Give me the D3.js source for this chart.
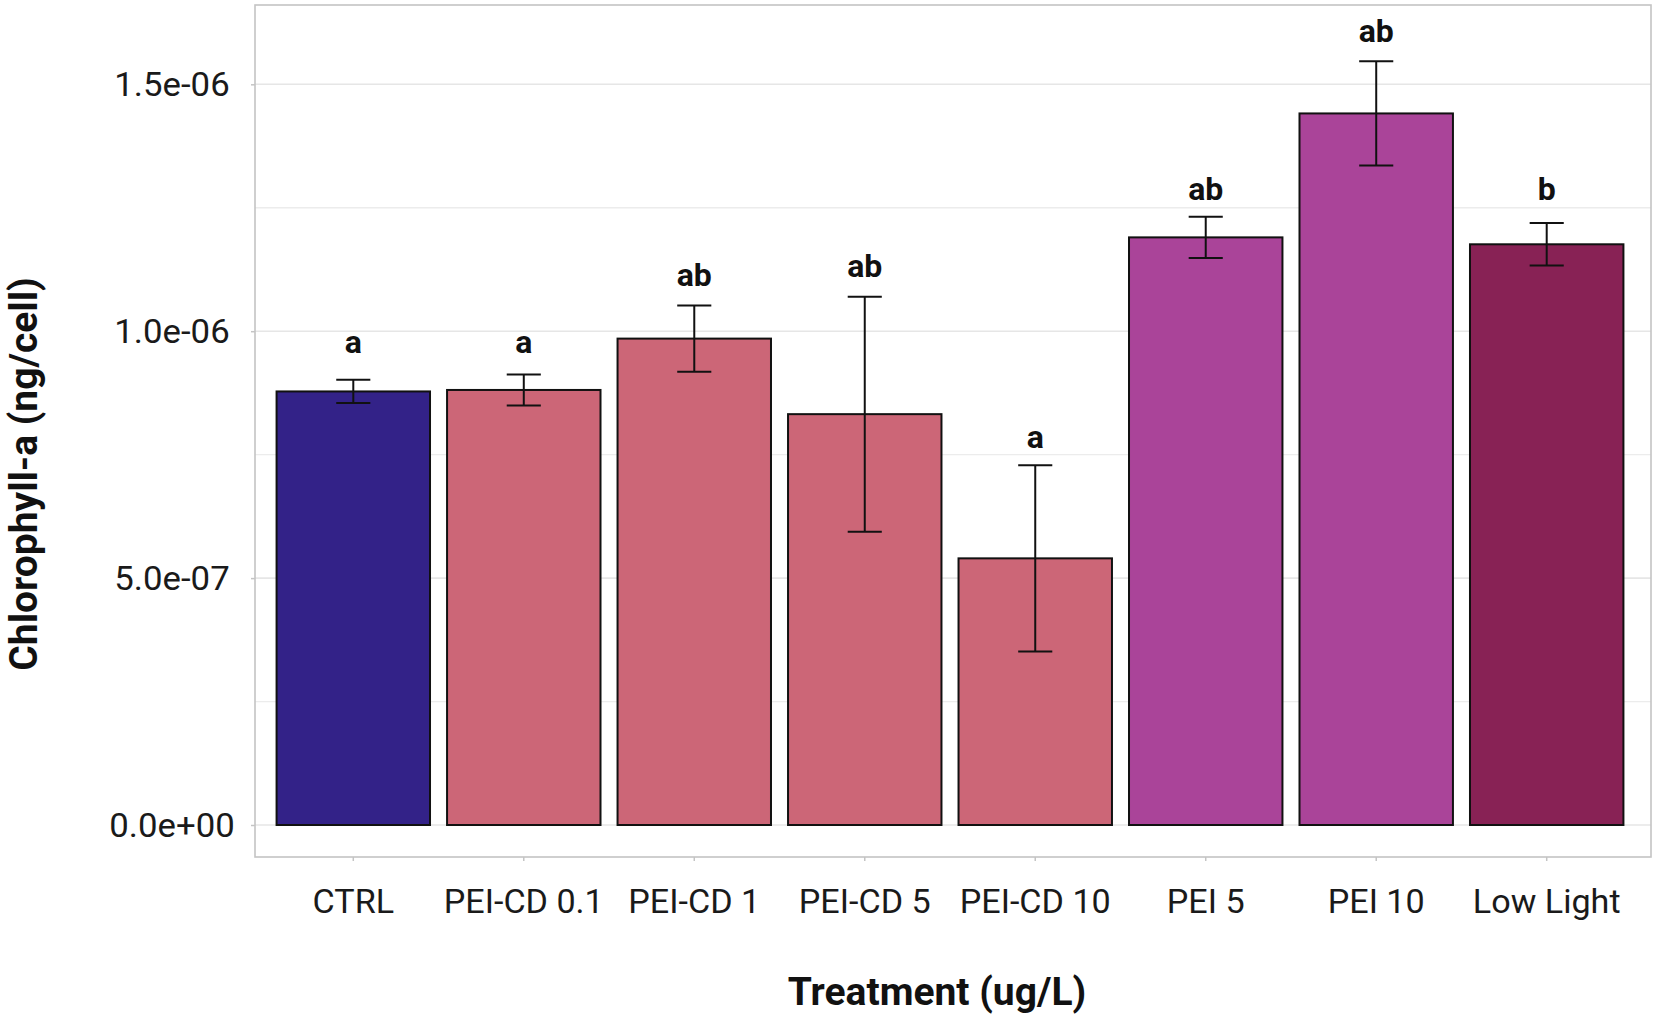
<!DOCTYPE html>
<html>
<head>
<meta charset="utf-8">
<script src="https://cdn.jsdelivr.net/npm/d3@7/dist/d3.min.js"></script>
<style>
  html, body { margin: 0; padding: 0; background: #ffffff; }
  svg { display: block; }
  text { font-family: Roboto, "Noto Sans", sans-serif; }
</style>
</head>
<body>
<svg id="chart" width="1654" height="1018"></svg>
<script>
// ---- data ----
const categories = ["CTRL", "PEI-CD 0.1", "PEI-CD 1", "PEI-CD 5", "PEI-CD 10", "PEI 5", "PEI 10", "Low Light"];
const means = [0.878e-6, 0.881e-6, 0.985e-6, 0.832e-6, 0.540e-6, 1.190e-6, 1.441e-6, 1.176e-6];
const errors = [0.0235e-6, 0.0315e-6, 0.067e-6, 0.238e-6, 0.1885e-6, 0.042e-6, 0.1055e-6, 0.043e-6];
const groupLetters = ["a", "a", "ab", "ab", "a", "ab", "ab", "b"];
const letterHeights = [0.9555e-6, 0.9555e-6, 1.0917e-6, 1.110e-6, 0.7632e-6, 1.2652e-6, 1.5856e-6, 1.2652e-6];
const groups = ["Control", "PEI-CD", "PEI-CD", "PEI-CD", "PEI-CD", "PEI", "PEI", "Low Light"];
const groupNames = ["Control", "PEI-CD", "PEI", "Low Light"];
const groupColors = ["#332288", "#CC6677", "#AA4499", "#882255"];
const yMajorTicks = [0, 0.5e-6, 1.0e-6, 1.5e-6];
const yMajorLabels = ["0.0e+00", "5.0e-07", "1.0e-06", "1.5e-06"];
const yMinorTicks = [0.25e-6, 0.75e-6, 1.25e-6];
const xTitle = "Treatment (ug/L)";
const yTitle = "Chlorophyll-a (ng/cell)";

// ---- layout ----
const panel = { left: 255, right: 1651, top: 5, bottom: 857 };
const svg = d3.select("#chart");

const x = d3.scaleBand().domain(categories).range([251, 1649]).paddingInner(0.1).paddingOuter(0.15);
const y = d3.scaleLinear().domain([0, 1.5e-6]).range([825, 84.3]);
const color = d3.scaleOrdinal().domain(groupNames).range(groupColors);

// grid
const grid = svg.append("g");
grid.selectAll("line.minor").data(yMinorTicks).join("line")
  .attr("class", "minor")
  .attr("x1", panel.left).attr("x2", panel.right)
  .attr("y1", d => y(d)).attr("y2", d => y(d))
  .attr("stroke", "#ececec").attr("stroke-width", 1.3);
grid.selectAll("line.major").data(yMajorTicks).join("line")
  .attr("class", "major")
  .attr("x1", panel.left).attr("x2", panel.right)
  .attr("y1", d => y(d)).attr("y2", d => y(d))
  .attr("stroke", "#e6e6e6").attr("stroke-width", 1.6);

// y axis ticks (marks only) via d3 axis
const yAxis = svg.append("g").attr("transform", `translate(${panel.left},0)`)
  .call(d3.axisLeft(y).tickValues(yMajorTicks).tickSize(4).tickFormat(""));
yAxis.select(".domain").remove();
yAxis.selectAll(".tick line").attr("stroke", "#c4c4c4").attr("stroke-width", 1.5);

// y tick labels
svg.append("g").selectAll("text").data(yMajorTicks).join("text")
  .attr("transform", d => `translate(172,${y(d)}) scale(1.07,1)`)
  .attr("dy", "0.36em")
  .attr("text-anchor", "middle")
  .attr("font-size", 32.5).attr("fill", "#1a1a1a")
  .text((d, i) => yMajorLabels[i]);

// x axis ticks via d3 axis
const xAxis = svg.append("g").attr("transform", `translate(0,${panel.bottom})`)
  .call(d3.axisBottom(x).tickSize(4).tickFormat(""));
xAxis.select(".domain").remove();
xAxis.selectAll(".tick line").attr("stroke", "#c4c4c4").attr("stroke-width", 1.5);

// x tick labels
svg.append("g").selectAll("text").data(categories).join("text")
  .attr("transform", d => `translate(${x(d) + x.bandwidth() / 2},913) scale(1.05,1)`)
  .attr("text-anchor", "middle")
  .attr("font-size", 32.5).attr("fill", "#1a1a1a")
  .text(d => d);

// bars
svg.append("g").selectAll("rect").data(categories).join("rect")
  .attr("x", d => x(d))
  .attr("width", x.bandwidth())
  .attr("y", (d, i) => y(means[i]))
  .attr("height", (d, i) => y(0) - y(means[i]))
  .attr("fill", (d, i) => color(groups[i]))
  .attr("stroke", "#111111").attr("stroke-width", 2);

// error bars
const whisker = x.step() * 0.2;
const eb = svg.append("g").attr("stroke", "#111111").attr("stroke-width", 2).attr("fill", "none");
categories.forEach((c, i) => {
  const cx = x(c) + x.bandwidth() / 2;
  const hi = y(means[i] + errors[i]);
  const lo = y(means[i] - errors[i]);
  eb.append("line").attr("x1", cx).attr("x2", cx).attr("y1", hi).attr("y2", lo);
  eb.append("line").attr("x1", cx - whisker / 2).attr("x2", cx + whisker / 2).attr("y1", hi).attr("y2", hi);
  eb.append("line").attr("x1", cx - whisker / 2).attr("x2", cx + whisker / 2).attr("y1", lo).attr("y2", lo);
});

// significance letters
svg.append("g").selectAll("text").data(categories).join("text")
  .attr("x", d => x(d) + x.bandwidth() / 2)
  .attr("y", (d, i) => y(letterHeights[i]))
  .attr("text-anchor", "middle")
  .attr("font-size", 32).attr("font-weight", "bold").attr("fill", "#111111")
  .text((d, i) => groupLetters[i]);

// panel border
svg.append("rect")
  .attr("x", panel.left).attr("y", panel.top)
  .attr("width", panel.right - panel.left).attr("height", panel.bottom - panel.top)
  .attr("fill", "none").attr("stroke", "#c4c4c4").attr("stroke-width", 1.6);

// axis titles
svg.append("text")
  .attr("x", 937).attr("y", 1005)
  .attr("text-anchor", "middle")
  .attr("font-size", 39).attr("font-weight", "bold").attr("fill", "#111111")
  .text(xTitle);

svg.append("text")
  .attr("transform", "translate(37,474) rotate(-90)")
  .attr("text-anchor", "middle")
  .attr("font-size", 39).attr("font-weight", "bold").attr("fill", "#111111")
  .text(yTitle);
</script>
</body>
</html>
